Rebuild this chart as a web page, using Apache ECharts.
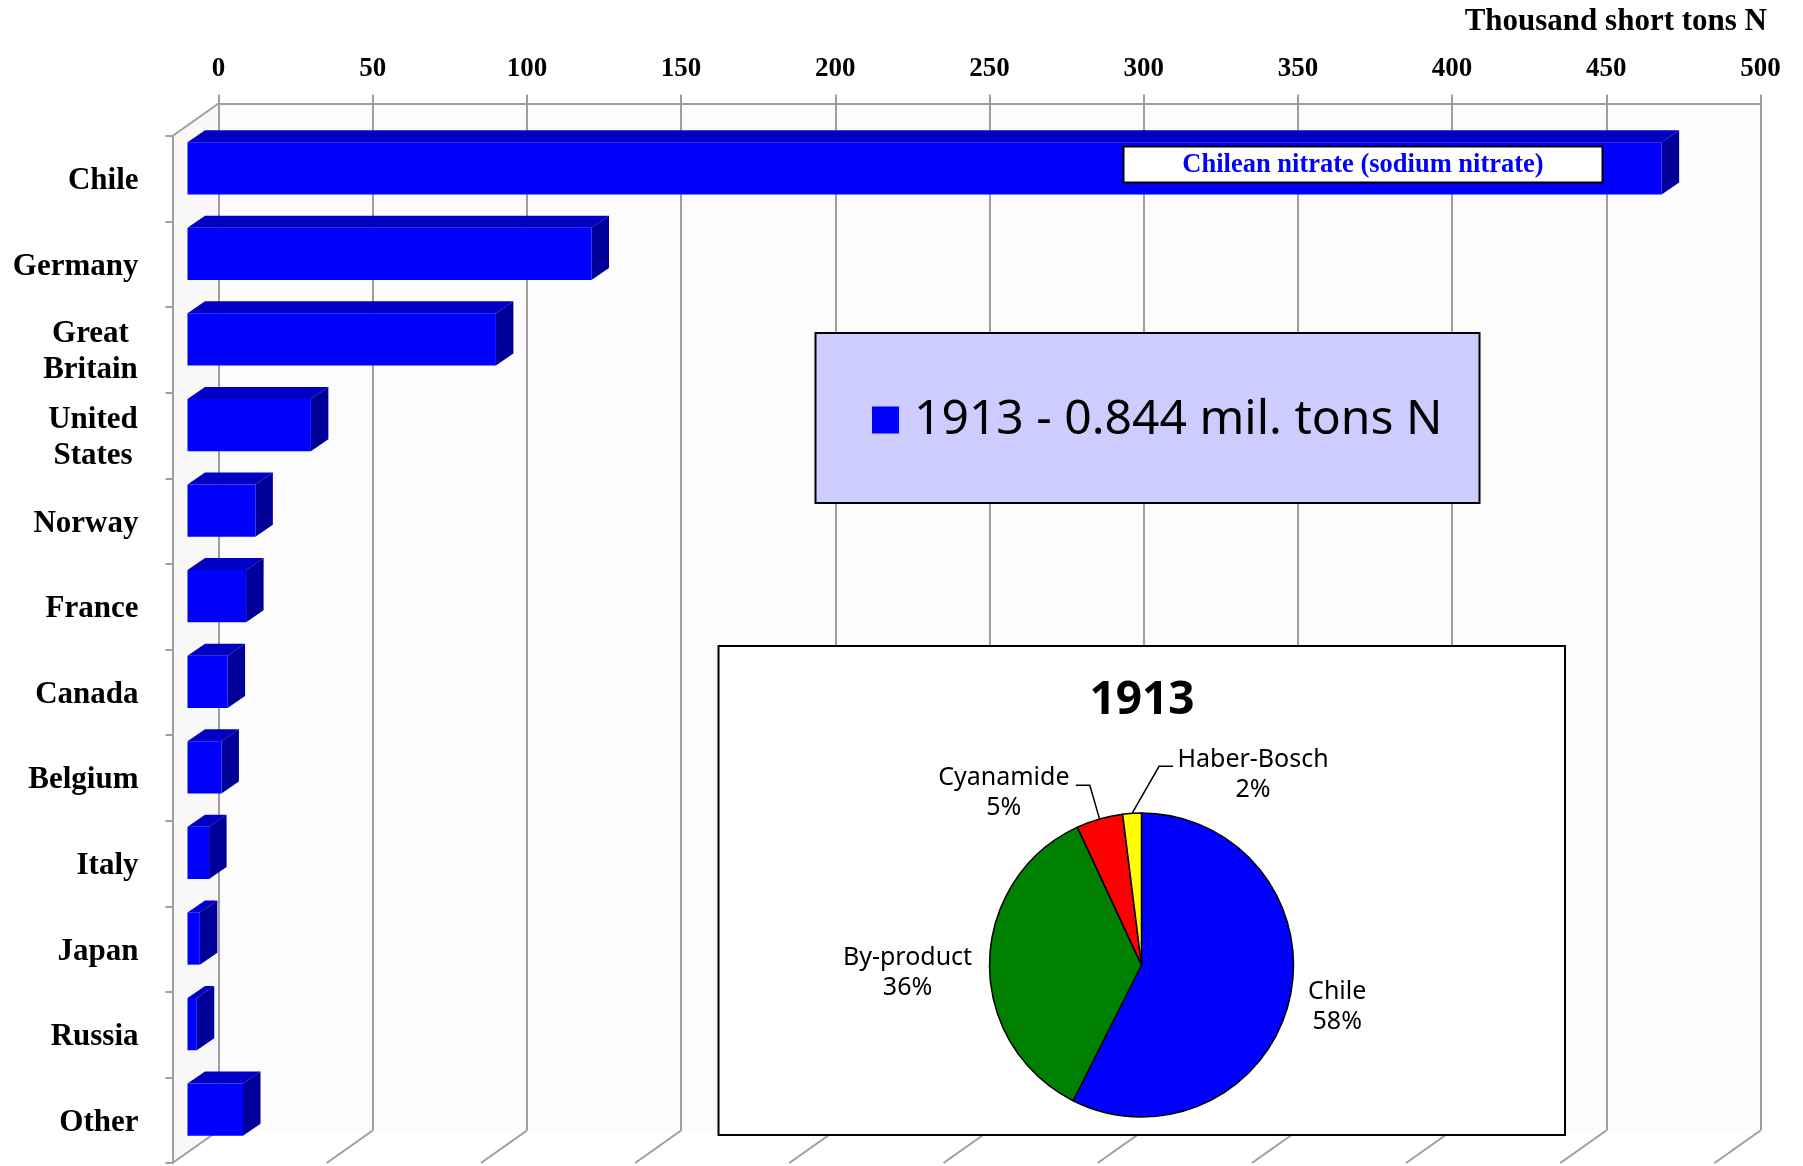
<!DOCTYPE html>
<html>
<head>
<meta charset="utf-8">
<title>World fixed nitrogen output, 1913</title>
<script src="https://cdn.jsdelivr.net/npm/echarts@6/dist/echarts.min.js"></script>
<style>
  html, body { margin: 0; padding: 0; background: #ffffff; }
  #chart { width: 1803px; height: 1166px; }
</style>
</head>
<body>
<div id="chart"></div>
<script>
// ---- data -------------------------------------------------------------
const countries = ['Chile', 'Germany', 'Great\nBritain', 'United\nStates', 'Norway', 'France',
                   'Canada', 'Belgium', 'Italy', 'Japan', 'Russia', 'Other'];
// thousand short tons of nitrogen, 1913
const output1913 = [478, 131, 100, 40, 22, 19, 13, 11, 7, 4, 3, 18];
const valueTicks = [0, 50, 100, 150, 200, 250, 300, 350, 400, 450, 500];

const sourceNames = ['Chile', 'By-product', 'Cyanamide', 'Haber-Bosch'];
const sourceShares = [58, 36, 5, 2]; // percent

const totalLabel = '1913 - 0.844 mil. tons N';
const unitLabel = 'Thousand short tons N';
const chileNote = 'Chilean nitrate (sodium nitrate)';
const pieTitle = '1913';

// ---- styling ----------------------------------------------------------
const SERIF = '"Liberation Serif", "Times New Roman", serif';
const SANS = '"Noto Sans", "Open Sans", sans-serif';
const GRID_LINE = '#9e9e9e';
const pieColors = ['#0000ff', '#008000', '#ff0000', '#ffff00'];

// pseudo-3D geometry: offsets (px) from the back wall toward the viewer
const WALL_DX = -46, WALL_DY = 32.5;    // full floor depth
const FRONT_DX = -31, FRONT_DY = 22;    // front face of a bar
const BACK_DX = -13.5, BACK_DY = 10;    // back face of a bar
const BAR_RATIO = 0.61;                 // bar thickness / category band

const chart = echarts.init(document.getElementById('chart'), null, { renderer: 'canvas' });

// back wall, side wall and floor lines, one floor line per value tick
function renderFrame(params, api) {
  const v = api.value(0);
  const band = api.size([0, 1])[1];
  const x = api.coord([v, 0])[0];
  const top = api.coord([v, 0])[1] - band / 2;
  const bottom = api.coord([v, countries.length - 1])[1] + band / 2;
  const lineStyle = { stroke: GRID_LINE, lineWidth: 2 };
  const children = [
    { type: 'line', shape: { x1: x, y1: bottom, x2: x + WALL_DX, y2: bottom + WALL_DY }, style: lineStyle }
  ];
  if (params.dataIndex === 0) {
    const xr = api.coord([valueTicks[valueTicks.length - 1], 0])[0];
    children.unshift(
      { type: 'rect', shape: { x: x, y: top, width: xr - x, height: bottom - top },
        style: { fill: '#fcfcfc' } },
      { type: 'polygon', shape: { points: [[x, top], [x + WALL_DX, top + WALL_DY],
                                            [x + WALL_DX, bottom + WALL_DY], [x, bottom]] },
        style: { fill: '#f8f8f8' } },
      { type: 'line', shape: { x1: x, y1: top, x2: x + WALL_DX, y2: top + WALL_DY }, style: lineStyle }
    );
  }
  return { type: 'group', children: children };
}

// a 3D bar: front face, top face and right side face
function renderBar(params, api) {
  const cat = api.value(1);
  const p0 = api.coord([0, cat]);
  const p1 = api.coord([api.value(0), cat]);
  const band = api.size([0, 1])[1];
  const h = band * BAR_RATIO;
  const yT = p0[1] - h / 2 + FRONT_DY;
  const yB = yT + h;
  const xL = p0[0] + FRONT_DX;
  const xR = p1[0] + FRONT_DX;
  const ddx = BACK_DX - FRONT_DX;
  const ddy = BACK_DY - FRONT_DY;
  return {
    type: 'group',
    children: [
      { type: 'polygon', shape: { points: [[xL, yT], [xR, yT], [xR + ddx, yT + ddy], [xL + ddx, yT + ddy]] },
        style: { fill: '#0000c4' } },
      { type: 'polygon', shape: { points: [[xR, yT], [xR + ddx, yT + ddy], [xR + ddx, yB + ddy], [xR, yB]] },
        style: { fill: '#000099' } },
      { type: 'rect', shape: { x: xL, y: yT, width: xR - xL, height: h },
        style: { fill: '#0000ff' } }
    ]
  };
}

// two-line category names are centred line by line
const catRich = {
  g: { width: 96, align: 'center', fontFamily: SERIF, fontWeight: 'bold', fontSize: 31, lineHeight: 36, color: '#000' },
  u: { width: 91, align: 'center', fontFamily: SERIF, fontWeight: 'bold', fontSize: 31, lineHeight: 36, color: '#000' }
};
function formatCategory(name) {
  if (name.indexOf('\n') < 0) return name;
  const key = name.indexOf('Britain') >= 0 ? 'g' : 'u';
  return name.split('\n').map(function (s) { return '{' + key + '|' + s + '}'; }).join('\n');
}

const pieLabelFont = { fontFamily: SANS, fontSize: 25, lineHeight: 30, color: '#000', align: 'center' };
const pieRich = {
  a: Object.assign({ width: 66 }, pieLabelFont),
  b: Object.assign({ width: 134 }, pieLabelFont),
  c: Object.assign({ width: 138 }, pieLabelFont),
  d: Object.assign({ width: 156 }, pieLabelFont)
};
const richKeys = ['a', 'b', 'c', 'd'];

const option = {
  animation: false,
  backgroundColor: '#ffffff',
  title: {
    text: unitLabel,
    right: 36,
    top: 6.5,
    padding: 0,
    textStyle: { fontFamily: SERIF, fontWeight: 'bold', fontSize: 31, color: '#000' }
  },
  legend: {
    data: [totalLabel],
    left: 872,
    top: 390,
    padding: 0,
    icon: 'rect',
    itemWidth: 27,
    itemHeight: 27,
    selectedMode: false,
    z: 12,
    textStyle: { fontFamily: SANS, fontSize: 48, color: '#000', lineHeight: 60, padding: [0, 0, 0, 10] }
  },
  grid: [
    { left: 218.5, top: 103.5, width: 1542, height: 1027, outerBoundsMode: 'none' },
    { left: 172.5, top: 136, width: 1542, height: 1027, outerBoundsMode: 'none' }
  ],
  xAxis: [
    {
      gridIndex: 0, type: 'value', min: 0, max: 500, interval: 50, position: 'top', z: 2,
      axisLine: { show: true, lineStyle: { color: GRID_LINE, width: 2 } },
      axisTick: { show: true, length: 9, lineStyle: { color: GRID_LINE, width: 2 } },
      axisLabel: { margin: 21, fontFamily: SERIF, fontWeight: 'bold', fontSize: 27, color: '#000' },
      splitLine: { show: true, lineStyle: { color: GRID_LINE, width: 2 } }
    },
    { gridIndex: 1, type: 'value', min: 0, max: 500, show: false }
  ],
  yAxis: [
    { gridIndex: 0, type: 'category', data: countries, inverse: true, show: false,
      splitLine: { show: false } },
    {
      gridIndex: 1, type: 'category', data: countries, inverse: true, z: 2,
      axisLine: { show: true, lineStyle: { color: GRID_LINE, width: 2 } },
      axisTick: { show: true, length: 7, alignWithLabel: false, lineStyle: { color: GRID_LINE, width: 2 } },
      splitLine: { show: false },
      axisLabel: {
        margin: 34, fontFamily: SERIF, fontWeight: 'bold', fontSize: 31, lineHeight: 36, color: '#000',
        padding: [5, 0, 0, 0],
        formatter: formatCategory, rich: catRich
      }
    }
  ],
  series: [
    {
      type: 'custom', name: 'frame', xAxisIndex: 0, yAxisIndex: 0, z: 1, silent: true,
      renderItem: renderFrame,
      encode: { x: 0, y: 1 },
      data: valueTicks.map(function (v) { return [v, 0]; })
    },
    {
      type: 'custom', name: totalLabel, xAxisIndex: 0, yAxisIndex: 0, z: 3,
      itemStyle: { color: '#0000ff' },
      renderItem: renderBar,
      encode: { x: 0, y: 1 },
      data: output1913.map(function (v, i) { return [v, i]; })
    },
    {
      type: 'pie', name: 'sources', z: 20,
      center: [1141.5, 965], radius: 152,
      startAngle: 90, clockwise: true, avoidLabelOverlap: false,
      itemStyle: { borderColor: '#000', borderWidth: 1.5 },
      label: {
        show: true, position: 'outside', distanceToLabelLine: 4,
        formatter: function (p) {
          const k = richKeys[p.dataIndex];
          return '{' + k + '|' + p.name + '}\n{' + k + '|' + p.value + '%}';
        },
        rich: pieRich
      },
      labelLine: { show: false, length: 5, length2: 8, lineStyle: { color: '#000', width: 1.5 } },
      labelLayout: function (p) {
        const pts = p.labelLinePoints;
        if (!pts) return;
        if (p.dataIndex === 3) {
          // leader bends up and to the right, clear of the neighbouring label
          const a = pts[0];
          const b = [a[0] + 27, a[1] - 47];
          const c = [b[0] + 14, b[1]];
          return { x: c[0] + 2, y: c[1] + 9, align: 'left', verticalAlign: 'middle', labelLinePoints: [a, b, c] };
        }
        if (p.dataIndex === 2) {
          return { x: pts[2][0] - 3, y: pts[2][1] + 8, align: 'right', verticalAlign: 'middle', labelLinePoints: pts };
        }
        if (p.dataIndex === 1) {
          return { dy: 10 };
        }
        return { dy: 6 };
      },
      data: sourceNames.map(function (n, i) {
        const small = i >= 2;
        return {
          name: n,
          value: sourceShares[i],
          itemStyle: { color: pieColors[i] },
          labelLine: small ? { show: true, length: 35, length2: 14 } : { show: false, length: 5, length2: 6 }
        };
      })
    }
  ],
  graphic: [
    { type: 'rect', z: 10, shape: { x: 1123.5, y: 146.5, width: 479, height: 36 },
      style: { fill: '#ffffff', stroke: '#000', lineWidth: 2 } },
    { type: 'text', z: 11, x: 1363, y: 165.5,
      style: { text: chileNote, fill: '#0000ff', font: 'bold 26.5px ' + SERIF, align: 'center', verticalAlign: 'middle' } },
    { type: 'rect', z: 10, shape: { x: 815.5, y: 333, width: 664, height: 170 },
      style: { fill: '#ccccff', stroke: '#000', lineWidth: 2 } },
    { type: 'rect', z: 10, shape: { x: 718.5, y: 646, width: 846.5, height: 489 },
      style: { fill: '#ffffff', stroke: '#000', lineWidth: 2 } },
    { type: 'text', z: 11, x: 1142, y: 701,
      style: { text: pieTitle, fill: '#000', font: 'bold 46px ' + SANS, align: 'center', verticalAlign: 'middle' } }
  ]
};

chart.setOption(option);
</script>
</body>
</html>
